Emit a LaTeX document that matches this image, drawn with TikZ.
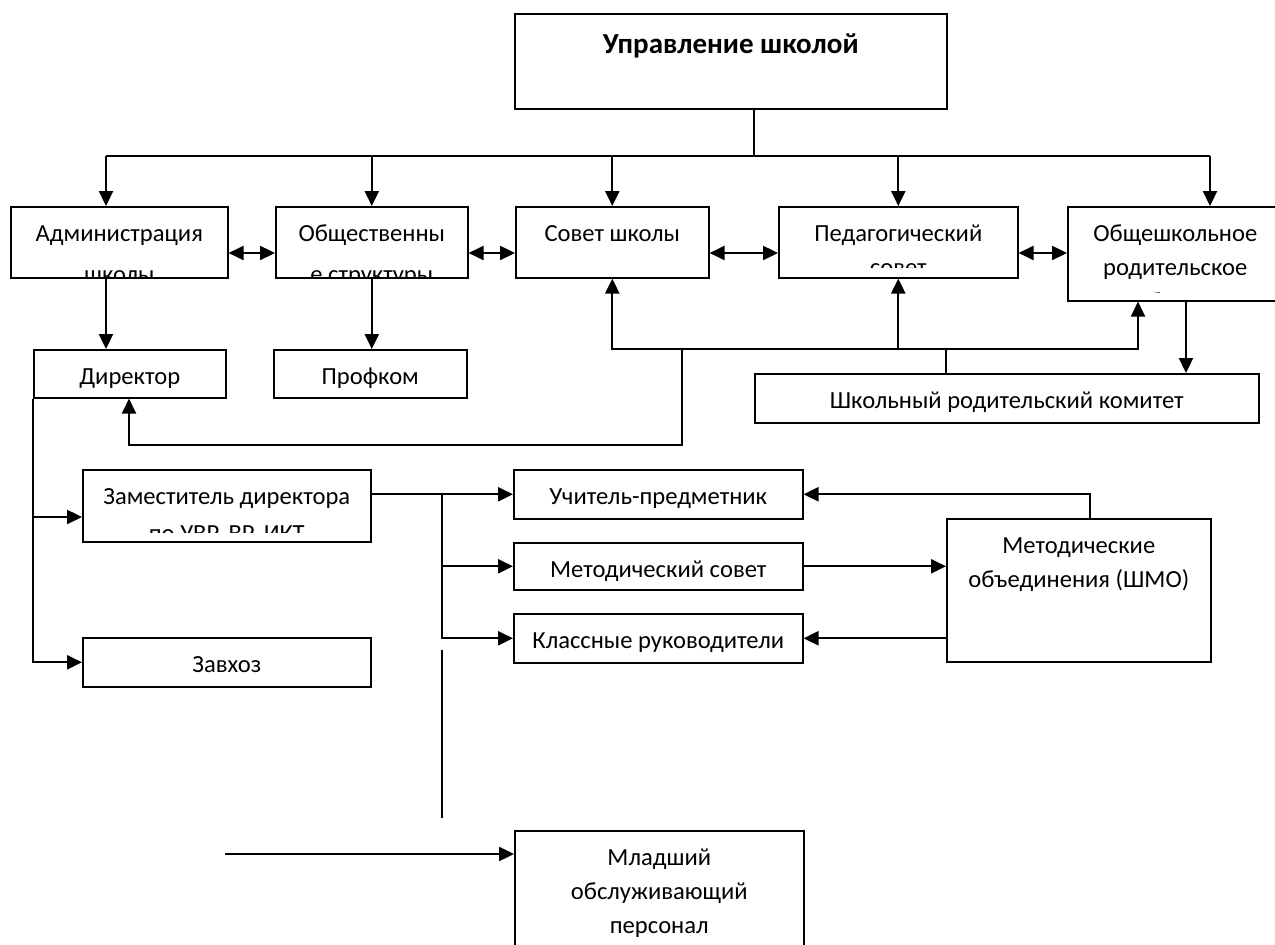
\documentclass[tikz,border=0pt]{standalone}
\usepackage{fontspec}
\setmainfont{Carlito}
\usetikzlibrary{arrows.meta,calc}

\newcommand{\boxfont}{\fontsize{14pt}{19.3pt}\selectfont}

\begin{document}
\begin{tikzpicture}[x=0.02cm, y=-0.02cm, >={Triangle[length=8.5pt,width=8pt]},
  box/.style 2 args={draw, line width=0.9pt, anchor=north west, inner sep=0pt,
    minimum width=#1*0.02cm, minimum height=#2*0.02cm},
  lbl/.style 2 args={path picture={
    \clip ([yshift=#1*0.02cm]path picture bounding box.south west)
      rectangle (path picture bounding box.north east);
    \node[draw=none, minimum width=0pt, minimum height=0pt, anchor=north,
      align=center, inner sep=0pt, font=\boxfont]
      at ([yshift=-10*0.02cm]path picture bounding box.north) {\strut#2};}},
  link/.style={line width=1.1pt},
  thinlink/.style={line width=0.7pt}]
  \useasboundingbox (0,0) rectangle (1275,945);
  \clip (0,0) rectangle (1275,945);

  % boxes
  \node[box={432}{95}, lbl={0}{\raisebox{-2.8pt}{\bfseries\fontsize{16.5pt}{19.3pt}\selectfont Управление школой}}] (upr) at (514,13) {};

  \node[box={217}{71}, lbl={0}{Администрация\\[4pt]школы}] (adm) at (10,206) {};
  \node[box={192}{71}, lbl={0}{Общественны\\[4pt]е структуры}] (obs) at (275,206) {};
  \node[box={193}{71}, lbl={0}{Совет школы}] (sov) at (515,206) {};
  \node[box={239}{71}, lbl={10}{Педагогический\\совет}] (ped) at (778,206) {};
  \node[box={215}{94}, lbl={8}{Общешкольное\\родительское\\собрание}] (obr) at (1067,206) {};

  \node[box={192}{48}, lbl={0}{Директор}] (dir) at (33,349) {};
  \node[box={193}{48}, lbl={0}{Профком}] (prof) at (273,349) {};
  \node[box={504}{49}, lbl={0}{Школьный родительский комитет}] (shk) at (754,373) {};

  \node[box={288}{72}, lbl={9}{Заместитель директора\\[2pt]по УВР, ВР, ИКТ}] (zam) at (82,469) {};
  \node[box={288}{49}, lbl={0}{Завхоз}] (zav) at (82,637) {};

  \node[box={289}{49}, lbl={0}{Учитель-предметник}] (uch) at (513,469) {};
  \node[box={289}{47}, lbl={0}{Методический совет}] (met) at (513,542) {};
  \node[box={289}{49}, lbl={0}{Классные руководители}] (kla) at (513,613) {};
  \node[box={264}{143}, lbl={0}{Методические\\объединения (ШМО)}] (shmo) at (946,518) {};

  \node[box={289}{130}, lbl={0}{Младший\\обслуживающий\\персонал}] (mlad) at (514,830) {};

  % top level
  \coordinate (bus) at (754,156);
  \draw[link] (upr.south -| bus) -- (bus);
  \draw[link] (bus -| 106,0) -- (bus -| 1210,0);
  \draw[link,->] (bus -| 106,0) -- (106,0 |- adm.north);
  \draw[link,->] (bus -| obs.north) -- (obs.north);
  \draw[link,->] (bus -| sov.north) -- (sov.north);
  \draw[link,->] (bus -| ped.north) -- (ped.north);
  \draw[link,->] (bus -| 1210,0) -- (1210,0 |- obr.north);

  \foreach \a/\b in {adm/obs, obs/sov, sov/ped, ped/obr}
    \draw[link,<->] (\a.east |- 0,253) -- (\b.west |- 0,253);

  % second level
  \draw[link,->] (106,0 |- adm.south) -- (106,0 |- dir.north);
  \draw[link,->] (obs.south) -- (obs.south |- prof.north);
  \draw[link,<->] (sov.south) -- (sov.south |- 0,349) -- (1138,349) -- (1138,0 |- obr.south);
  \draw[link,->] (ped.south |- 0,349) -- (ped.south);
  \draw[link] (946,349) -- (946,0 |- shk.north);
  \draw[link,->] (1186,0 |- obr.south) -- (1186,0 |- shk.north);
  \draw[link,->] (682,349) -- (682,445) -- (129,445) -- (129,0 |- dir.south);

  % director
  \draw[link,->] (dir.south west) |- (zav.west);
  \draw[link,->] (33,517) -- (33,517 -| zam.west);
  \draw[link,->] (zam.east |- uch.west) -- (uch.west);
  \draw[link,->] (442,0 |- uch.west) |- (met.west);
  \draw[link,->] (442,0 |- uch.west) |- (kla.west);
  \draw[link,->] (1090,0 |- shmo.north) |- (uch.east);
  \draw[link,->] (met.east) -- (met.east -| shmo.west);
  \draw[link,->] (shmo.west |- kla.east) -- (kla.east);

  \draw[thinlink] (442,650) -- (442,818);
  \coordinate (src) at (225,854);
  \draw[link,->] (src) -- (src -| mlad.west);
\end{tikzpicture}
\end{document}
